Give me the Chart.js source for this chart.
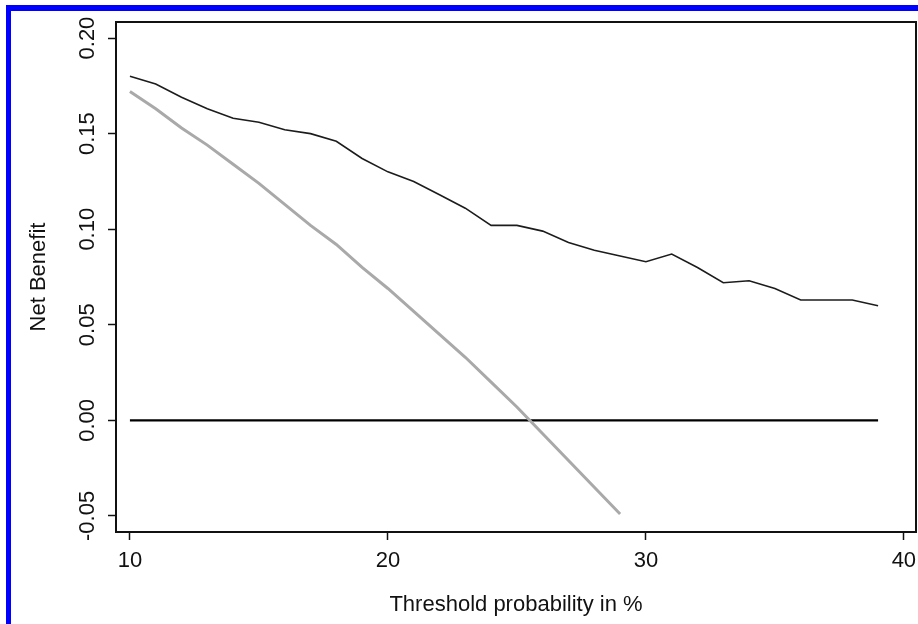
<!DOCTYPE html>
<html>
<head>
<meta charset="utf-8">
<script src="https://cdn.jsdelivr.net/npm/chart.js@4.4.1/dist/chart.umd.min.js"></script>
<style>
  html, body { margin: 0; padding: 0; background: #ffffff; }
  #wrap { position: relative; width: 918px; height: 624px; }
</style>
</head>
<body>
<div id="wrap"><canvas id="c" width="918" height="624"></canvas></div>
<script>
// ---- data ----
const thresholds = [10,11,12,13,14,15,16,17,18,19,20,21,22,23,24,25,26,27,28,29,30,31,32,33,34,35,36,37,38,39];
const modelNetBenefit = [0.180,0.176,0.169,0.163,0.158,0.156,0.152,0.150,0.146,0.137,0.130,0.125,0.118,0.111,0.102,0.102,0.099,0.093,0.089,0.086,0.083,0.087,0.080,0.072,0.073,0.069,0.063,0.063,0.063,0.060];
const treatAllThresholds = [10,11,12,13,14,15,16,17,18,19,20,21,22,23,24,25,26,27,28,29];
const treatAllNetBenefit = [0.172,0.163,0.153,0.144,0.134,0.124,0.113,0.102,0.092,0.080,0.069,0.057,0.045,0.033,0.020,0.007,-0.007,-0.021,-0.035,-0.049];
const treatNoneThresholds = [10,39];
const treatNoneNetBenefit = [0,0];
const xTickValues = [10,20,30,40];
const yTickValues = [-0.05,0.00,0.05,0.10,0.15,0.20];
const xTitle = 'Threshold probability in %';
const yTitle = 'Net Benefit';

const pts = (xs, ys) => xs.map((x, i) => ({ x: x, y: ys[i] }));

const FONT = "'Liberation Sans', Arial, Helvetica, sans-serif";

const framePlugin = {
  id: 'frame',
  beforeDraw(chart) {
    const ctx = chart.ctx;
    ctx.save();
    ctx.fillStyle = '#0000ff';
    ctx.fillRect(6, 5, 918 - 6, 6);
    ctx.fillRect(6, 5, 5, 624 - 5);
    ctx.restore();
  },
  afterDraw(chart) {
    const a = chart.chartArea;
    const ctx = chart.ctx;
    ctx.save();
    ctx.strokeStyle = '#111111';
    ctx.lineWidth = 2;
    ctx.strokeRect(a.left, a.top, a.right - a.left, a.bottom - a.top);
    ctx.restore();
  }
};

new Chart(document.getElementById('c'), {
  type: 'scatter',
  data: {
    datasets: [
      { label: 'Treat none', data: pts(treatNoneThresholds, treatNoneNetBenefit), showLine: true, borderColor: '#000000', borderWidth: 2.2, pointRadius: 0, order: 3 },
      { label: 'Treat all', data: pts(treatAllThresholds, treatAllNetBenefit), showLine: true, borderColor: '#a9a9a9', borderWidth: 3, pointRadius: 0, order: 2 },
      { label: 'Model', data: pts(thresholds, modelNetBenefit), showLine: true, borderColor: '#1c1c1c', borderWidth: 1.6, pointRadius: 0, order: 1 }
    ]
  },
  options: {
    responsive: false,
    animation: false,
    events: [],
    layout: { padding: { left: 0, top: 22, right: 2, bottom: 0 } },
    plugins: { legend: { display: false }, tooltip: { enabled: false } },
    scales: {
      x: {
        type: 'linear',
        min: 9.46, max: 40.47,
        afterBuildTicks: s => { s.ticks = xTickValues.map(v => ({ value: v })); },
        afterFit: s => { s.height = 92; s.paddingLeft = 0; s.paddingRight = 0; },
        grid: { display: true, drawOnChartArea: false, drawTicks: true, tickLength: 8, tickWidth: 1.5, tickColor: '#111' },
        border: { display: false },
        ticks: { font: { family: FONT, size: 22 }, color: '#111', padding: 8, maxRotation: 0, minRotation: 0, callback: v => String(v) },
        title: { display: true, text: xTitle, font: { family: FONT, size: 22 }, color: '#111', padding: { top: 0, bottom: 6 } }
      },
      y: {
        type: 'linear',
        min: -0.0584, max: 0.2084,
        afterBuildTicks: s => { s.ticks = yTickValues.map(v => ({ value: v })); },
        afterFit: s => { s.width = 116; s.paddingTop = 0; s.paddingBottom = 0; },
        grid: { display: true, drawOnChartArea: false, drawTicks: true, tickLength: 8, tickWidth: 1.5, tickColor: '#111' },
        border: { display: false },
        ticks: { font: { family: FONT, size: 22 }, color: '#111', padding: -5, minRotation: 90, maxRotation: 90, crossAlign: 'center', callback: v => Number(v).toFixed(2) },
        title: { display: true, text: yTitle, font: { family: FONT, size: 22 }, color: '#111', padding: { top: 26, bottom: 0 } }
      }
    }
  },
  plugins: [framePlugin]
});
</script>
</body>
</html>
